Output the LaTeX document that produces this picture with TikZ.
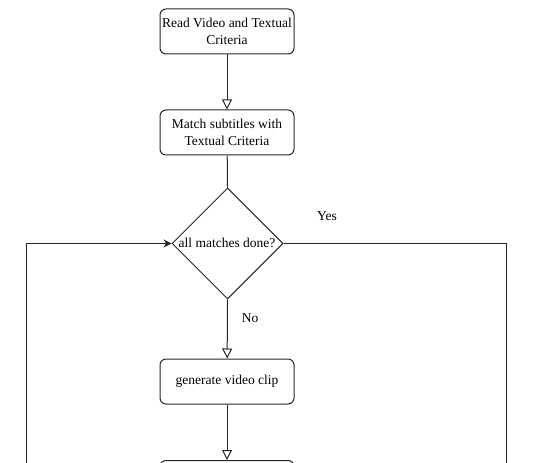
\documentclass[tikz,border=0pt]{standalone}
\usepackage{fontspec}
\setmainfont{Liberation Serif}
\usetikzlibrary{arrows.meta,shapes.geometric}
\begin{document}
\begin{tikzpicture}[x=1pt,y=-1pt,
  line width=1pt, draw=black!85,
  box/.style={draw=black!85, rounded corners=6pt, minimum width=134pt, minimum height=45pt, align=center, inner sep=1pt, font=\fontsize{13.5}{16.5}\selectfont},
  dec/.style={draw=black!85, diamond, minimum width=111pt, minimum height=111pt, inner sep=0pt, aspect=1},
  lbl/.style={font=\fontsize{13.5}{15}\selectfont},
  open/.style={-{Triangle[open,width=10pt,length=10pt]}},
  fill/.style={-{Stealth[width=8pt,length=8pt]}}]
\useasboundingbox (0,0) rectangle (534,462);
\clip (0,0) rectangle (534,462);
\fill[white] (0,0) rectangle (534,462);
\node[box] (b1) at (227,31.5) {Read Video and Textual\\Criteria};
\node[box] (b2) at (227,132.5) {Match subtitles with\\Textual Criteria};
\node[dec] (d) at (227.5,243.5) {};
\node[lbl] (dt) at (227,243) {all matches done?};
\node[box] (b3) at (227,381.5) {generate video clip};
\node[box] (b4) at (227,483) {};
\node[lbl] (yes) at (327,216) {Yes};
\node[lbl] (no) at (250,318) {No};
\coordinate (lb) at (26,500);
\coordinate (rb) at (506,500);
\draw[open] (b1) -- (b2);
\draw (b2) -- (d.north);
\draw[open] (d.south) -- (b3);
\draw[open] (b3) -- (b4);
\draw[fill] (lb) |- (d.west);
\draw (d.east) -| (rb);
\end{tikzpicture}
\end{document}
